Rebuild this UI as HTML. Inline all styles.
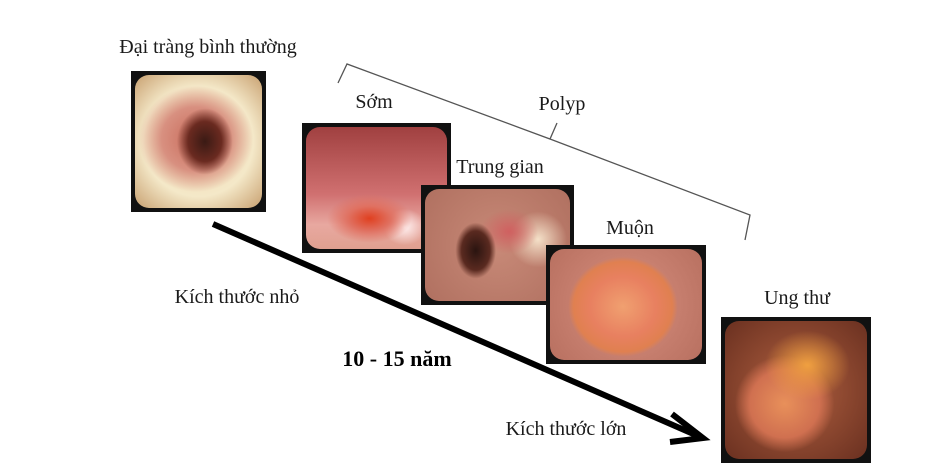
<!DOCTYPE html>
<html><head><meta charset="utf-8"><style>
body{margin:0;width:937px;height:475px;background:#fff;position:relative;overflow:hidden;font-family:"Liberation Serif",serif;}
.t{position:absolute;font-size:20px;color:#1a1a1a;white-space:nowrap;transform:translateX(-50%);}
.im{position:absolute;box-sizing:border-box;border:4px solid #111;background:#111;overflow:hidden;}
.im div{position:absolute;inset:0;border-radius:14px;}
</style></head><body>
<svg width="937" height="475" style="position:absolute;left:0;top:0">
<polyline points="338,83 347,64 550,139 557,123 550,139 750,215 745,240" fill="none" stroke="#555" stroke-width="1.3"/>
<line x1="213" y1="224" x2="698" y2="436" stroke="#000" stroke-width="6"/>
<polyline points="672,414 703,438 670,442" fill="none" stroke="#000" stroke-width="6" stroke-linejoin="miter"/>
</svg>
<div class="im" style="left:131px;top:71px;width:135px;height:141px"><div style="background:radial-gradient(ellipse 22% 25% at 55% 50%,#3a1a14 0,#6a2a20 60%,transparent 100%),radial-gradient(ellipse 45% 40% at 48% 48%,#c86a5a 0,#d89080 60%,transparent 100%),radial-gradient(circle at 50% 50%,#f1d6b0 0,#f4e8c8 60%,#c8a070 100%)"></div></div>
<div class="im" style="left:302px;top:123px;width:149px;height:130px"><div style="background:radial-gradient(ellipse 30% 20% at 45% 75%,#e04020 0,#e07060 50%,transparent 100%),radial-gradient(ellipse 15% 15% at 70% 82%,#fff0f0,transparent),linear-gradient(180deg,#a04040 0,#d07070 55%,#e8a8a0 80%,#e0a090 100%)"></div></div>
<div class="im" style="left:421px;top:185px;width:153px;height:120px"><div style="background:radial-gradient(ellipse 14% 25% at 35% 55%,#2a1410 0,#5a2a20 70%,transparent 100%),radial-gradient(ellipse 20% 20% at 58% 38%,#d06060,transparent),radial-gradient(ellipse 20% 25% at 78% 45%,#f4e0c8,transparent),radial-gradient(circle at 50% 50%,#c88a78 0,#b07060 100%)"></div></div>
<div class="im" style="left:546px;top:245px;width:160px;height:119px"><div style="background:radial-gradient(ellipse 36% 45% at 48% 52%,#f0a070 0,#e88060 60%,#e08050 90%,transparent 100%),radial-gradient(circle at 50% 50%,#d89080 0,#b87060 100%)"></div></div>
<div class="im" style="left:721px;top:317px;width:150px;height:146px"><div style="background:radial-gradient(ellipse 30% 25% at 58% 32%,#f0a040 0,transparent 100%),radial-gradient(ellipse 35% 35% at 42% 60%,#e8905a 0,#d07050 70%,transparent 100%),radial-gradient(circle at 50% 50%,#b06040 0,#6a3020 100%)"></div></div>
<div class="t" style="left:208px;top:36px">Đại tràng bình thường</div>
<div class="t" style="left:374px;top:91px">Sớm</div>
<div class="t" style="left:562px;top:93px">Polyp</div>
<div class="t" style="left:500px;top:156px">Trung gian</div>
<div class="t" style="left:630px;top:217px">Muộn</div>
<div class="t" style="left:797px;top:287px">Ung thư</div>
<div class="t" style="left:237px;top:286px">Kích thước nhỏ</div>
<div class="t" style="left:397px;top:346px;font-weight:bold;font-size:22px;color:#000">10 - 15 năm</div>
<div class="t" style="left:566px;top:418px">Kích thước lớn</div>
</body></html>
